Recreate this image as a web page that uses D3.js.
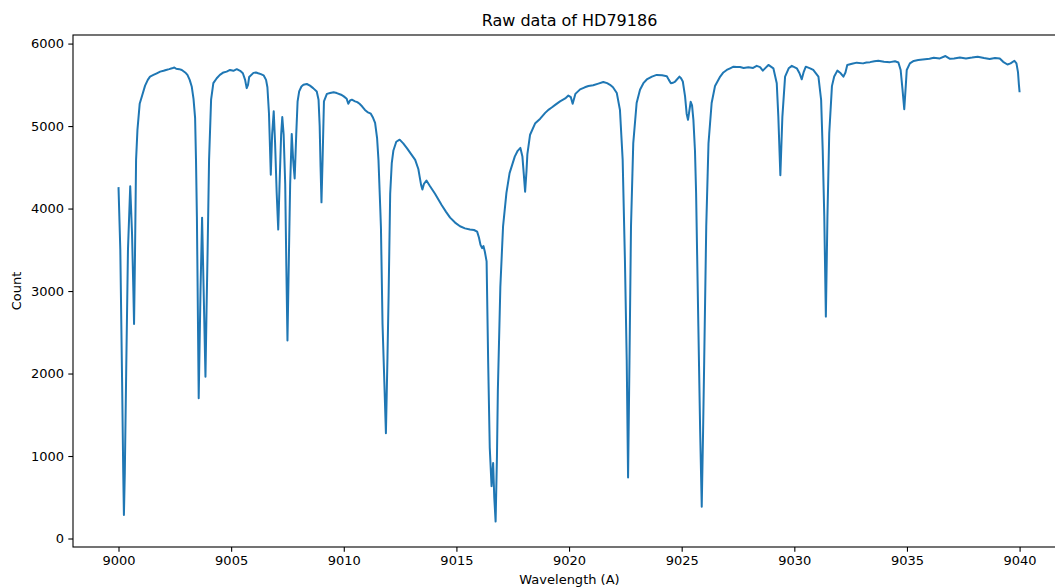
<!DOCTYPE html>
<html>
<head>
<meta charset="utf-8">
<script src="https://cdn.jsdelivr.net/npm/d3@7"></script>
<style>
  html, body { margin: 0; padding: 0; background: #fff; overflow: hidden; }
  svg { display: block; }
  text { font-family: "DejaVu Sans", sans-serif; fill: #000; }
</style>
</head>
<body>
<svg id="chart" width="1055" height="587"></svg>
<script>
// ---- Data ----
const title = "Raw data of HD79186";
const xLabel = "Wavelength (A)";
const yLabel = "Count";
const xTicks = [9000, 9005, 9010, 9015, 9020, 9025, 9030, 9035, 9040];
const yTicks = [0, 1000, 2000, 3000, 4000, 5000, 6000];

const wavelength = [
  9000.00, 9000.08, 9000.16, 9000.21, 9000.24, 9000.28, 9000.34, 9000.42, 9000.52, 9000.60,
  9000.66, 9000.69, 9000.73, 9000.78, 9000.84, 9000.94, 9001.05, 9001.18, 9001.30, 9001.40,
  9001.55, 9001.70, 9001.85, 9002.00, 9002.11, 9002.25, 9002.37, 9002.48, 9002.56, 9002.70,
  9002.81, 9002.96, 9003.06, 9003.16, 9003.25, 9003.33, 9003.40, 9003.44, 9003.48, 9003.51,
  9003.56, 9003.64, 9003.71, 9003.78, 9003.86, 9003.91, 9003.95, 9004.02, 9004.11, 9004.21,
  9004.36, 9004.50, 9004.66, 9004.80, 9004.95, 9005.10, 9005.25, 9005.40, 9005.52, 9005.62,
  9005.69, 9005.75, 9005.80, 9005.99, 9006.10, 9006.20, 9006.32, 9006.44, 9006.55, 9006.61,
  9006.68, 9006.76, 9006.82, 9006.89, 9006.95, 9007.02, 9007.09, 9007.15, 9007.22, 9007.27,
  9007.33, 9007.40, 9007.45, 9007.50, 9007.55, 9007.62, 9007.69, 9007.75, 9007.82, 9007.89,
  9007.95, 9008.02, 9008.12, 9008.21, 9008.36, 9008.50, 9008.64, 9008.80, 9008.88, 9008.93,
  9008.97, 9009.01, 9009.06, 9009.12, 9009.25, 9009.39, 9009.55, 9009.69, 9009.88, 9010.00,
  9010.13, 9010.20, 9010.28, 9010.36, 9010.50, 9010.60, 9010.70, 9010.81, 9010.94, 9011.05,
  9011.20, 9011.30, 9011.39, 9011.48, 9011.54, 9011.62, 9011.65, 9011.72, 9011.80, 9011.87,
  9011.94, 9011.99, 9012.06, 9012.13, 9012.20, 9012.33, 9012.48, 9012.64, 9012.81, 9012.99,
  9013.17, 9013.31, 9013.36, 9013.43, 9013.49, 9013.56, 9013.67, 9013.83, 9014.05, 9014.20,
  9014.35, 9014.54, 9014.72, 9014.94, 9015.16, 9015.38, 9015.60, 9015.78, 9015.92, 9016.00,
  9016.07, 9016.14, 9016.20, 9016.26, 9016.34, 9016.41, 9016.48, 9016.56, 9016.63, 9016.68,
  9016.74, 9016.80, 9016.84, 9016.95, 9017.07, 9017.22, 9017.36, 9017.59, 9017.72, 9017.84,
  9017.93, 9017.99, 9018.05, 9018.11, 9018.15, 9018.27, 9018.50, 9018.72, 9018.94, 9019.10,
  9019.23, 9019.40, 9019.60, 9019.83, 9019.97, 9020.08, 9020.16, 9020.28, 9020.49, 9020.70,
  9020.86, 9021.07, 9021.30, 9021.52, 9021.69, 9021.82, 9021.95, 9022.12, 9022.26, 9022.38,
  9022.48, 9022.56, 9022.62, 9022.68, 9022.75, 9022.85, 9023.00, 9023.15, 9023.30, 9023.45,
  9023.68, 9023.89, 9024.13, 9024.34, 9024.43, 9024.52, 9024.62, 9024.71, 9024.90, 9024.97,
  9025.05, 9025.15, 9025.22, 9025.28, 9025.40, 9025.46, 9025.52, 9025.59, 9025.64, 9025.74,
  9025.82, 9025.89, 9025.95, 9026.00, 9026.09, 9026.19, 9026.33, 9026.48, 9026.71, 9026.85,
  9027.00, 9027.15, 9027.30, 9027.45, 9027.59, 9027.75, 9027.96, 9028.17, 9028.33, 9028.48,
  9028.60, 9028.70, 9028.85, 9029.07, 9029.22, 9029.29, 9029.38, 9029.47, 9029.59, 9029.75,
  9029.89, 9030.11, 9030.23, 9030.33, 9030.41, 9030.51, 9030.70, 9030.84, 9031.07, 9031.19,
  9031.26, 9031.33, 9031.40, 9031.47, 9031.55, 9031.67, 9031.77, 9031.91, 9032.06, 9032.18,
  9032.27, 9032.35, 9032.56, 9032.77, 9033.05, 9033.20, 9033.36, 9033.55, 9033.73, 9033.98,
  9034.25, 9034.47, 9034.62, 9034.72, 9034.80, 9034.88, 9034.95, 9034.99, 9035.13, 9035.30,
  9035.50, 9035.80, 9036.00, 9036.19, 9036.46, 9036.71, 9036.91, 9037.09, 9037.35, 9037.62,
  9037.89, 9038.14, 9038.42, 9038.67, 9038.91, 9039.12, 9039.27, 9039.46, 9039.60, 9039.77,
  9039.86, 9039.93, 9039.97, 9040.00
];

const counts = [
  4260, 3500, 1900, 800, 285, 800, 2000, 3500, 4270, 3700,
  3000, 2600, 3400, 4590, 4950, 5270, 5370, 5490, 5560, 5600,
  5620, 5640, 5660, 5670, 5680, 5690, 5700, 5710, 5695, 5690,
  5680, 5650, 5620, 5560, 5480, 5330, 5100, 4590, 3900, 3100,
  1700, 3000, 3890, 3000, 1960, 2800, 3400, 4590, 5320, 5520,
  5580, 5620, 5650, 5660, 5680, 5670, 5690, 5670, 5640, 5560,
  5460, 5500, 5595, 5645, 5650, 5640, 5630, 5615, 5560, 5470,
  5150, 4410, 4900, 5180, 4800, 4200, 3745, 4300, 4900, 5110,
  4900, 4300, 3300, 2400, 3200, 4300, 4905, 4600, 4365, 4900,
  5300, 5420, 5480, 5500, 5510, 5490, 5460, 5420, 5320, 5000,
  4500, 4075, 4600, 5300, 5390, 5400, 5410, 5400, 5380, 5360,
  5330, 5270, 5310, 5320, 5300, 5290, 5270, 5240, 5195, 5170,
  5150, 5100, 5040, 4850, 4590, 4000, 3770, 2600, 1900, 1275,
  2200, 2950, 4180, 4550, 4700, 4810, 4835, 4790, 4730, 4660,
  4590, 4480, 4400, 4290, 4230, 4300, 4340, 4270, 4180, 4110,
  4040, 3960, 3890, 3830, 3785, 3760, 3745, 3740, 3720, 3650,
  3560, 3520, 3545, 3480, 3360, 2130, 1100, 635, 915, 500,
  205, 1000, 1800, 3050, 3780, 4190, 4430, 4630, 4700, 4735,
  4630, 4420, 4205, 4450, 4660, 4895, 5035, 5090, 5160, 5200,
  5225, 5260, 5300, 5335, 5370, 5350, 5270, 5390, 5445, 5470,
  5485, 5495, 5515, 5535, 5520, 5500, 5470, 5400, 5195, 4590,
  3380, 2165, 740, 2100, 3780, 4790, 5280, 5440, 5520, 5565,
  5600, 5620, 5615, 5605, 5560, 5520, 5525, 5540, 5600, 5580,
  5540, 5360, 5150, 5075, 5295, 5250, 5075, 4700, 4185, 2570,
  1300, 385, 1300, 2160, 3780, 4790, 5280, 5485, 5600, 5650,
  5680, 5700, 5720, 5715, 5715, 5705, 5712, 5705, 5730, 5715,
  5672, 5700, 5741, 5700, 5520, 5115, 4405, 5115, 5600, 5700,
  5730, 5700, 5640, 5567, 5650, 5720, 5700, 5680, 5600, 5316,
  4710, 3900, 2690, 3900, 4913, 5484, 5600, 5672, 5640, 5599,
  5650, 5741, 5755, 5769, 5760, 5770, 5775, 5785, 5793, 5780,
  5775, 5785, 5770, 5680, 5450, 5205, 5500, 5680, 5760, 5790,
  5800, 5810, 5815, 5828, 5820, 5849, 5815, 5820, 5830, 5820,
  5830, 5841, 5825, 5813, 5825, 5820, 5779, 5746, 5760, 5792,
  5760, 5650, 5500, 5410
];

// ---- Layout ----
const W = 1055, H = 587;
const plot = { left: 73, right: 1066, top: 35, bottom: 547 };
const data = wavelength.map((w, i) => ({ x: w, y: counts[i] }));

const svg = d3.select("#chart");

const x = d3.scaleLinear().domain([8997.98, 9042.06]).range([plot.left, plot.right]);
const y = d3.scaleLinear().domain([-103, 6104]).range([plot.bottom, plot.top]);

// Data line
const line = d3.line().x(d => x(d.x)).y(d => y(d.y));
svg.append("path")
  .datum(data)
  .attr("fill", "none")
  .attr("stroke", "#1f77b4")
  .attr("stroke-width", 2)
  .attr("stroke-linejoin", "round")
  .attr("stroke-linecap", "butt")
  .attr("d", line);

// Frame
svg.append("rect")
  .attr("x", plot.left).attr("y", plot.top)
  .attr("width", plot.right - plot.left).attr("height", plot.bottom - plot.top)
  .attr("fill", "none").attr("stroke", "#000").attr("stroke-width", 1.1);

// Axes
const xAxis = d3.axisBottom(x).tickValues(xTicks).tickSize(4.7).tickPadding(4.2)
  .tickFormat(d3.format("d"));
const gx = svg.append("g").attr("transform", `translate(0,${plot.bottom})`).call(xAxis);
gx.select(".domain").remove();
gx.selectAll(".tick line").attr("stroke", "#000").attr("stroke-width", 1.1);
gx.selectAll(".tick text").attr("font-size", "13px").attr("font-family", "DejaVu Sans");

const yAxis = d3.axisLeft(y).tickValues(yTicks).tickSize(4.7).tickPadding(4.2)
  .tickFormat(d3.format("d"));
const gy = svg.append("g").attr("transform", `translate(${plot.left},0)`).call(yAxis);
gy.select(".domain").remove();
gy.selectAll(".tick line").attr("stroke", "#000").attr("stroke-width", 1.1);
gy.selectAll(".tick text").attr("font-size", "13px").attr("font-family", "DejaVu Sans");

// Title and labels
const cx = (plot.left + plot.right) / 2;
svg.append("text")
  .attr("x", cx).attr("y", 26)
  .attr("text-anchor", "middle")
  .attr("font-size", "16px")
  .text(title);

svg.append("text")
  .attr("x", cx).attr("y", 584)
  .attr("text-anchor", "middle")
  .attr("font-size", "13px")
  .text(xLabel);

svg.append("text")
  .attr("transform", `translate(21,${(plot.top + plot.bottom) / 2}) rotate(-90)`)
  .attr("text-anchor", "middle")
  .attr("font-size", "13px")
  .text(yLabel);
</script>
</body>
</html>
